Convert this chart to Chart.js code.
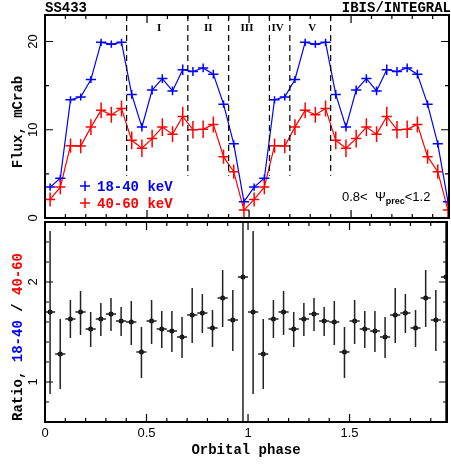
<!DOCTYPE html>
<html>
<head>
<meta charset="utf-8">
<script src="https://cdn.jsdelivr.net/npm/chart.js@4/dist/chart.umd.min.js"></script>
<style>
  body { margin: 0; background: #fff; }
  #wrap { position: relative; width: 451px; height: 464px; }
  canvas { position: absolute; left: 0; top: 0; }
</style>
</head>
<body>
<div id="wrap">
  <canvas id="flux_chart" width="451" height="464"></canvas>
  <canvas id="ratio_chart" width="451" height="464"></canvas>
</div>
<script>
// DATA (phase folded twice, 20 bins per orbit)
const phase = [
  0.025, 0.075, 0.125, 0.175, 0.225, 0.275, 0.325, 0.375, 0.425, 0.475,
  0.525, 0.575, 0.625, 0.675, 0.725, 0.775, 0.825, 0.875, 0.925, 0.975,
  1.025, 1.075, 1.125, 1.175, 1.225, 1.275, 1.325, 1.375, 1.425, 1.475,
  1.525, 1.575, 1.625, 1.675, 1.725, 1.775, 1.825, 1.875, 1.925, 1.975
];
const flux_18_40 = [
  3.5, 4.5, 13.4, 13.7, 15.7, 19.9, 19.7, 19.9, 14.0, 10.3,
  14.5, 15.8, 14.4, 16.8, 16.6, 17.0, 16.3, 12.9, 8.4, 1.85,
  3.5, 4.5, 13.4, 13.7, 15.7, 19.9, 19.7, 19.9, 14.0, 10.3,
  14.5, 15.8, 14.4, 16.8, 16.6, 17.0, 16.3, 12.9, 8.4, 1.85
];
const err_18_40 = [
  0.4, 0.4, 0.4, 0.4, 0.4, 0.4, 0.4, 0.4, 0.5, 0.5,
  0.5, 0.5, 0.5, 0.6, 0.5, 0.5, 0.5, 0.4, 0.4, 0.4,
  0.4, 0.4, 0.4, 0.4, 0.4, 0.4, 0.4, 0.4, 0.5, 0.5,
  0.5, 0.5, 0.5, 0.6, 0.5, 0.5, 0.5, 0.4, 0.4, 0.4
];
const flux_40_60 = [
  2.1, 3.5, 8.2, 8.15, 10.3, 12.2, 11.7, 12.4, 8.8, 7.9,
  9.0, 10.3, 9.5, 11.5, 10.0, 10.05, 10.6, 6.95, 5.25, 0.9,
  2.1, 3.5, 8.2, 8.15, 10.3, 12.2, 11.7, 12.4, 8.8, 7.9,
  9.0, 10.3, 9.5, 11.5, 10.0, 10.05, 10.6, 6.95, 5.25, 0.9
];
const err_40_60 = [
  0.8, 0.8, 0.8, 0.8, 0.9, 0.9, 0.9, 0.9, 1.0, 1.0,
  1.0, 1.0, 0.9, 1.1, 1.0, 1.0, 0.9, 0.8, 0.8, 0.8,
  0.8, 0.8, 0.8, 0.8, 0.9, 0.9, 0.9, 0.9, 1.0, 1.0,
  1.0, 1.0, 0.9, 1.1, 1.0, 1.0, 0.9, 0.8, 0.8, 0.8
];
const ratio = [
  1.70, 1.28, 1.63, 1.70, 1.53, 1.63, 1.68, 1.61, 1.60, 1.30,
  1.61, 1.53, 1.51, 1.45, 1.67, 1.69, 1.54, 1.84, 1.62, 2.05,
  1.70, 1.28, 1.63, 1.70, 1.53, 1.63, 1.68, 1.61, 1.60, 1.30,
  1.61, 1.53, 1.51, 1.45, 1.67, 1.69, 1.54, 1.84, 1.62, 2.05
];
const ratio_hi = [
  2.51, 1.63, 1.82, 1.91, 1.70, 1.79, 1.84, 1.75, 1.81, 1.55,
  1.82, 1.71, 1.71, 1.65, 1.94, 1.88, 1.72, 2.12, 1.92, 3.00,
  2.51, 1.63, 1.82, 1.91, 1.70, 1.79, 1.84, 1.75, 1.81, 1.55,
  1.82, 1.71, 1.71, 1.65, 1.94, 1.88, 1.72, 2.12, 1.92, 3.00
];
const ratio_lo = [
  0.88, 0.93, 1.44, 1.47, 1.35, 1.46, 1.51, 1.46, 1.37, 1.04,
  1.38, 1.34, 1.30, 1.24, 1.39, 1.49, 1.35, 1.55, 1.31, 0.00,
  0.88, 0.93, 1.44, 1.47, 1.35, 1.46, 1.51, 1.46, 1.37, 1.04,
  1.38, 1.34, 1.30, 1.24, 1.39, 1.49, 1.35, 1.55, 1.31, 0.00
];
const bin_half = 0.025;

// phase intervals I..V
const phase_bounds = [0.4, 0.7, 0.9, 1.1, 1.2, 1.4];
const interval_names = ["I", "II", "III", "IV", "V"];
const interval_pos = [0.56, 0.80, 0.99, 1.14, 1.31];

// AXES
const x_major = [0, 0.5, 1, 1.5];
const x_labels = ["0", "0.5", "1", "1.5"];
const x_minor = [0.1, 0.2, 0.3, 0.4, 0.6, 0.7, 0.8, 0.9, 1.1, 1.2, 1.3, 1.4, 1.6, 1.7, 1.8, 1.9];
const flux_major = [0, 10, 20];
const flux_minor = [5, 15];
const ratio_major = [1, 2];
const ratio_minor = [0.8, 1.2, 1.4, 1.6, 1.8, 2.2, 2.4];

const BLUE = "#0000ff";
const RED = "#ff0000";
const TITLE_FONT = "bold 14px 'Liberation Mono'";
const TICK_FONT = "13px 'Liberation Sans'";

function points(ys) {
  return phase.map((x, i) => ({ x: x, y: ys[i] }));
}

// draw frame + inward ticks on all four sides
function drawFrame(chart, yMajor, yMinor) {
  const { ctx, chartArea: a, scales } = chart;
  ctx.save();
  ctx.strokeStyle = "#000";
  ctx.lineWidth = 1.2;
  ctx.beginPath();
  const tick = (vals, len) => {
    vals.forEach(v => {
      const px = scales.x.getPixelForValue(v);
      ctx.moveTo(px, a.bottom); ctx.lineTo(px, a.bottom - len);
      ctx.moveTo(px, a.top); ctx.lineTo(px, a.top + len);
    });
  };
  const ytick = (vals, len) => {
    vals.forEach(v => {
      const py = scales.y.getPixelForValue(v);
      ctx.moveTo(a.left, py); ctx.lineTo(a.left + len, py);
      ctx.moveTo(a.right, py); ctx.lineTo(a.right - len, py);
    });
  };
  tick(x_major, 8);
  tick(x_minor, 4);
  ytick(yMajor, 8);
  ytick(yMinor, 4);
  ctx.stroke();
  ctx.lineWidth = 2;
  ctx.strokeRect(a.left, a.top, a.right - a.left, a.bottom - a.top);
  ctx.restore();
}

function drawYLabels(chart, vals) {
  const { ctx, chartArea: a, scales } = chart;
  ctx.save();
  ctx.fillStyle = "#000";
  ctx.font = TICK_FONT;
  ctx.textAlign = "center";
  ctx.textBaseline = "middle";
  vals.forEach(v => {
    ctx.save();
    ctx.translate(a.left - 12, scales.y.getPixelForValue(v));
    ctx.rotate(-Math.PI / 2);
    ctx.fillText(String(v), 0, 0);
    ctx.restore();
  });
  ctx.restore();
}

// error bars from the dataset's own arrays
const errorBars = {
  id: "errorBars",
  afterDatasetsDraw(chart) {
    const { ctx, chartArea: a, scales } = chart;
    ctx.save();
    ctx.beginPath();
    ctx.rect(a.left, a.top, a.right - a.left, a.bottom - a.top);
    ctx.clip();
    chart.data.datasets.forEach(ds => {
      ctx.strokeStyle = ds.barColor || ds.borderColor;
      ctx.lineWidth = 1.5;
      ctx.beginPath();
      ds.data.forEach((p, i) => {
        const x0 = scales.x.getPixelForValue(p.x - bin_half);
        const x1 = scales.x.getPixelForValue(p.x + bin_half);
        const xc = scales.x.getPixelForValue(p.x);
        const yc = scales.y.getPixelForValue(p.y);
        const lo = ds.lo ? ds.lo[i] : p.y - ds.err[i];
        const hi = ds.hi ? ds.hi[i] : p.y + ds.err[i];
        ctx.moveTo(x0, yc); ctx.lineTo(x1, yc);
        ctx.moveTo(xc, scales.y.getPixelForValue(lo));
        ctx.lineTo(xc, scales.y.getPixelForValue(hi));
      });
      ctx.stroke();
    });
    ctx.restore();
  }
};

const fluxDecor = {
  id: "fluxDecor",
  afterDraw(chart) {
    const { ctx, chartArea: a, scales } = chart;
    // dashed phase boundaries
    ctx.save();
    ctx.strokeStyle = "#000";
    ctx.lineWidth = 1.2;
    ctx.setLineDash([6, 4]);
    ctx.beginPath();
    phase_bounds.forEach(b => {
      const px = scales.x.getPixelForValue(b);
      ctx.moveTo(px, a.top);
      ctx.lineTo(px, scales.y.getPixelForValue(4.8));
    });
    ctx.stroke();
    ctx.restore();

    ctx.save();
    ctx.fillStyle = "#000";
    ctx.font = "bold 11px 'Liberation Serif'";
    ctx.textAlign = "center";
    ctx.textBaseline = "middle";
    interval_names.forEach((n, i) => {
      ctx.fillText(n, scales.x.getPixelForValue(interval_pos[i]), scales.y.getPixelForValue(21.5));
    });

    drawFrame(chart, flux_major, flux_minor);
    drawYLabels(chart, flux_major);

    // titles
    ctx.font = TITLE_FONT;
    ctx.textBaseline = "alphabetic";
    ctx.textAlign = "left";
    ctx.fillText("SS433", 45, 12);
    ctx.textAlign = "right";
    ctx.fillText("IBIS/INTEGRAL", 451, 12);

    ctx.save();
    ctx.translate(18, 122);
    ctx.rotate(-Math.PI / 2);
    ctx.textAlign = "center";
    ctx.textBaseline = "middle";
    ctx.fillText("Flux, mCrab", 0, 0);
    ctx.restore();

    // legend
    const legend = [["18-40 keV", BLUE, 186], ["40-60 keV", RED, 203]];
    legend.forEach(([txt, col, y]) => {
      ctx.strokeStyle = col;
      ctx.lineWidth = 1.5;
      ctx.beginPath();
      ctx.moveTo(80, y); ctx.lineTo(90, y);
      ctx.moveTo(85, y - 5); ctx.lineTo(85, y + 5);
      ctx.stroke();
      ctx.fillStyle = col;
      ctx.font = TITLE_FONT;
      ctx.textAlign = "left";
      ctx.textBaseline = "middle";
      ctx.fillText(txt, 97, y + 1);
    });

    // precession phase note
    ctx.fillStyle = "#000";
    ctx.textBaseline = "alphabetic";
    ctx.font = "13px 'Liberation Sans'";
    let x = 342;
    const base = 201;
    ctx.fillText("0.8<  \u03A8", x, base);
    x += ctx.measureText("0.8<  \u03A8").width;
    ctx.font = "bold 9px 'Liberation Sans'";
    ctx.fillText("prec", x, base + 3);
    x += ctx.measureText("prec").width;
    ctx.font = "13px 'Liberation Sans'";
    ctx.fillText("<1.2", x, base);
    ctx.restore();
  }
};

const ratioDecor = {
  id: "ratioDecor",
  afterDraw(chart) {
    const { ctx, chartArea: a, scales } = chart;
    drawFrame(chart, ratio_major, ratio_minor);
    drawYLabels(chart, ratio_major);
    ctx.save();
    ctx.fillStyle = "#000";
    ctx.font = TICK_FONT;
    ctx.textAlign = "center";
    ctx.textBaseline = "middle";
    x_major.forEach((v, i) => {
      ctx.fillText(x_labels[i], scales.x.getPixelForValue(v), a.bottom + 11);
    });
    ctx.font = TITLE_FONT;
    ctx.fillText("Orbital phase", (a.left + a.right) / 2, 450);

    // coloured y title
    ctx.translate(18, 337);
    ctx.rotate(-Math.PI / 2);
    const parts = [["Ratio, ", "#000"], ["18-40", BLUE], [" / ", "#000"], ["40-60", RED]];
    const total = parts.reduce((s, p) => s + ctx.measureText(p[0]).width, 0);
    let x = -total / 2;
    ctx.textAlign = "left";
    parts.forEach(([t, c]) => {
      ctx.fillStyle = c;
      ctx.fillText(t, x, 0);
      x += ctx.measureText(t).width;
    });
    ctx.restore();
  }
};

const common = {
  responsive: false,
  animation: false,
  plugins: { legend: { display: false }, tooltip: { enabled: false } },
  events: []
};

new Chart(document.getElementById("flux_chart"), {
  type: "line",
  data: {
    datasets: [
      { label: "18-40 keV", data: points(flux_18_40), err: err_18_40,
        borderColor: BLUE, borderWidth: 1.2, pointRadius: 0, tension: 0 },
      { label: "40-60 keV", data: points(flux_40_60), err: err_40_60,
        borderColor: RED, borderWidth: 1.2, pointRadius: 0, tension: 0 }
    ]
  },
  options: Object.assign({}, common, {
    layout: { padding: { left: 45, right: 2, top: 15, bottom: 246 } },
    scales: {
      x: { type: "linear", min: 0, max: 1.98, display: false },
      y: { type: "linear", min: 0, max: 23, display: false }
    }
  }),
  plugins: [errorBars, fluxDecor]
});

new Chart(document.getElementById("ratio_chart"), {
  type: "scatter",
  data: {
    datasets: [
      { label: "ratio", data: points(ratio), lo: ratio_lo, hi: ratio_hi,
        borderColor: "#000", backgroundColor: "#000", barColor: "#222",
        pointRadius: 2.5, pointBorderWidth: 0, showLine: false }
    ]
  },
  options: Object.assign({}, common, {
    layout: { padding: { left: 45, right: 2, top: 222, bottom: 42 } },
    scales: {
      x: { type: "linear", min: 0, max: 1.98, display: false },
      y: { type: "linear", min: 0.6, max: 2.6, display: false }
    }
  }),
  plugins: [errorBars, ratioDecor]
});
</script>
</body>
</html>
